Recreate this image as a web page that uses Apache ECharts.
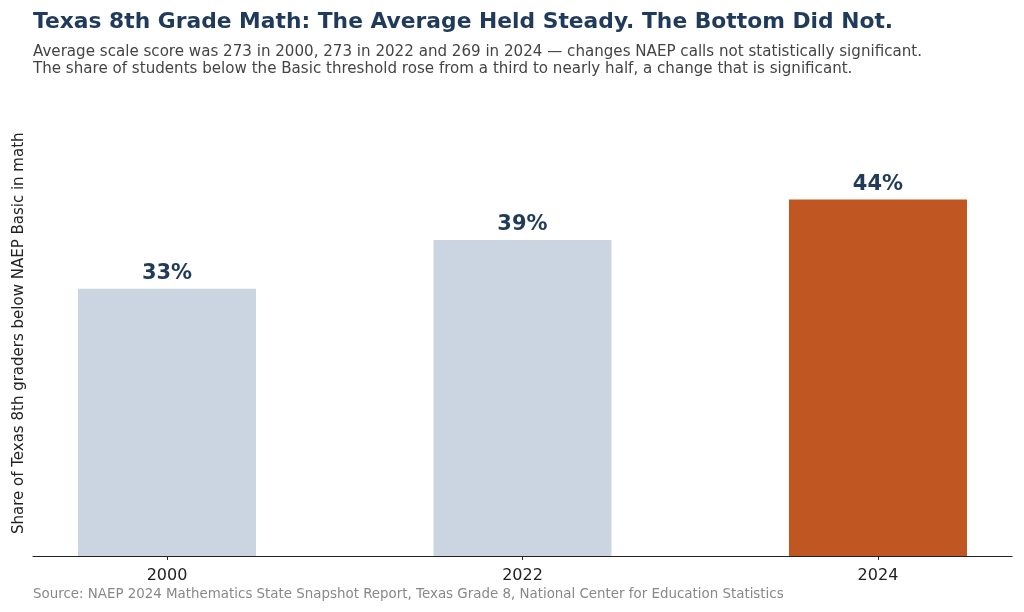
<!DOCTYPE html>
<html>
<head>
<meta charset="utf-8">
<script src="https://cdn.jsdelivr.net/npm/echarts@6/dist/echarts.min.js"></script>
<style>
  html, body { margin: 0; padding: 0; background: #fff; }
  #chart { width: 1024px; height: 612px; }
</style>
</head>
<body>
<div id="chart"></div>
<script>
var years = ["2000", "2022", "2024"];
var shareBelowBasic = [33, 39, 44];
var barColors = ["#cad5e1", "#cad5e1", "#c05621"];

var titleText = "Texas 8th Grade Math: The Average Held Steady. The Bottom Did Not.";
var subText = "Average scale score was 273 in 2000, 273 in 2022 and 269 in 2024 \u2014 changes NAEP calls not statistically significant.\nThe share of students below the Basic threshold rose from a third to nearly half, a change that is significant.";
var sourceText = "Source: NAEP 2024 Mathematics State Snapshot Report, Texas Grade 8, National Center for Education Statistics";
var yName = "Share of Texas 8th graders below NAEP Basic in math";

var font = "DejaVu Sans";
var navy = "#1f3a5a";

var myChart = echarts.init(document.getElementById("chart"));

// bars sit at x = 0,1,2 on a value axis so the side margins match the picture
var barData = [];
for (var i = 0; i < years.length; i++) {
	barData.push({
		value: [i, shareBelowBasic[i]],
		itemStyle: { color: barColors[i] }
	});
}

var option = {
	animation: false,
	backgroundColor: "#fff",
	textStyle: { fontFamily: font },
	title: [{
		text: titleText,
		left: 28,
		top: 6,
		textStyle: { fontFamily: font, fontSize: 21.8, fontWeight: "bold", color: navy }
	}, {
		text: subText,
		left: 28,
		top: 39,
		textStyle: { fontFamily: font, fontSize: 15.1, fontWeight: "normal", color: "#444", lineHeight: 17 }
	}, {
		text: sourceText,
		left: 28,
		top: 583,
		textStyle: { fontFamily: font, fontSize: 13.4, fontWeight: "normal", color: "#888" }
	}],
	grid: {
		left: 33,
		right: 12,
		top: 110.5,
		bottom: 56,
		outerBoundsMode: "none"
	},
	xAxis: {
		type: "value",
		min: -0.377,
		max: 2.377,
		splitLine: { show: false },
		axisLine: { show: true, lineStyle: { color: "#222", width: 1.2 } },
		axisTick: {
			show: true,
			customValues: [0, 1, 2],
			length: 4,
			lineStyle: { color: "#222" }
		},
		axisLabel: {
			customValues: [0, 1, 2],
			formatter: function(v) {
				return years[Math.round(v)];
			},
			color: "#222",
			fontSize: 16,
			fontFamily: font,
			margin: 12
		}
	},
	yAxis: {
		type: "value",
		min: 0,
		max: 55,
		name: yName,
		nameLocation: "middle",
		nameRotate: 90,
		nameGap: 6,
		nameTextStyle: { fontFamily: font, fontSize: 15, color: "#222" },
		axisLine: { show: false },
		axisTick: { show: false },
		axisLabel: { show: false },
		splitLine: { show: false }
	},
	series: [{
		type: "bar",
		data: barData,
		barWidth: 178,
		label: {
			show: true,
			position: "top",
			distance: 5,
			formatter: function(p) {
				return p.value[1] + "%";
			},
			fontFamily: font,
			fontSize: 21,
			fontWeight: "bold",
			color: navy
		}
	}]
};
myChart.setOption(option);
</script>
</body>
</html>
